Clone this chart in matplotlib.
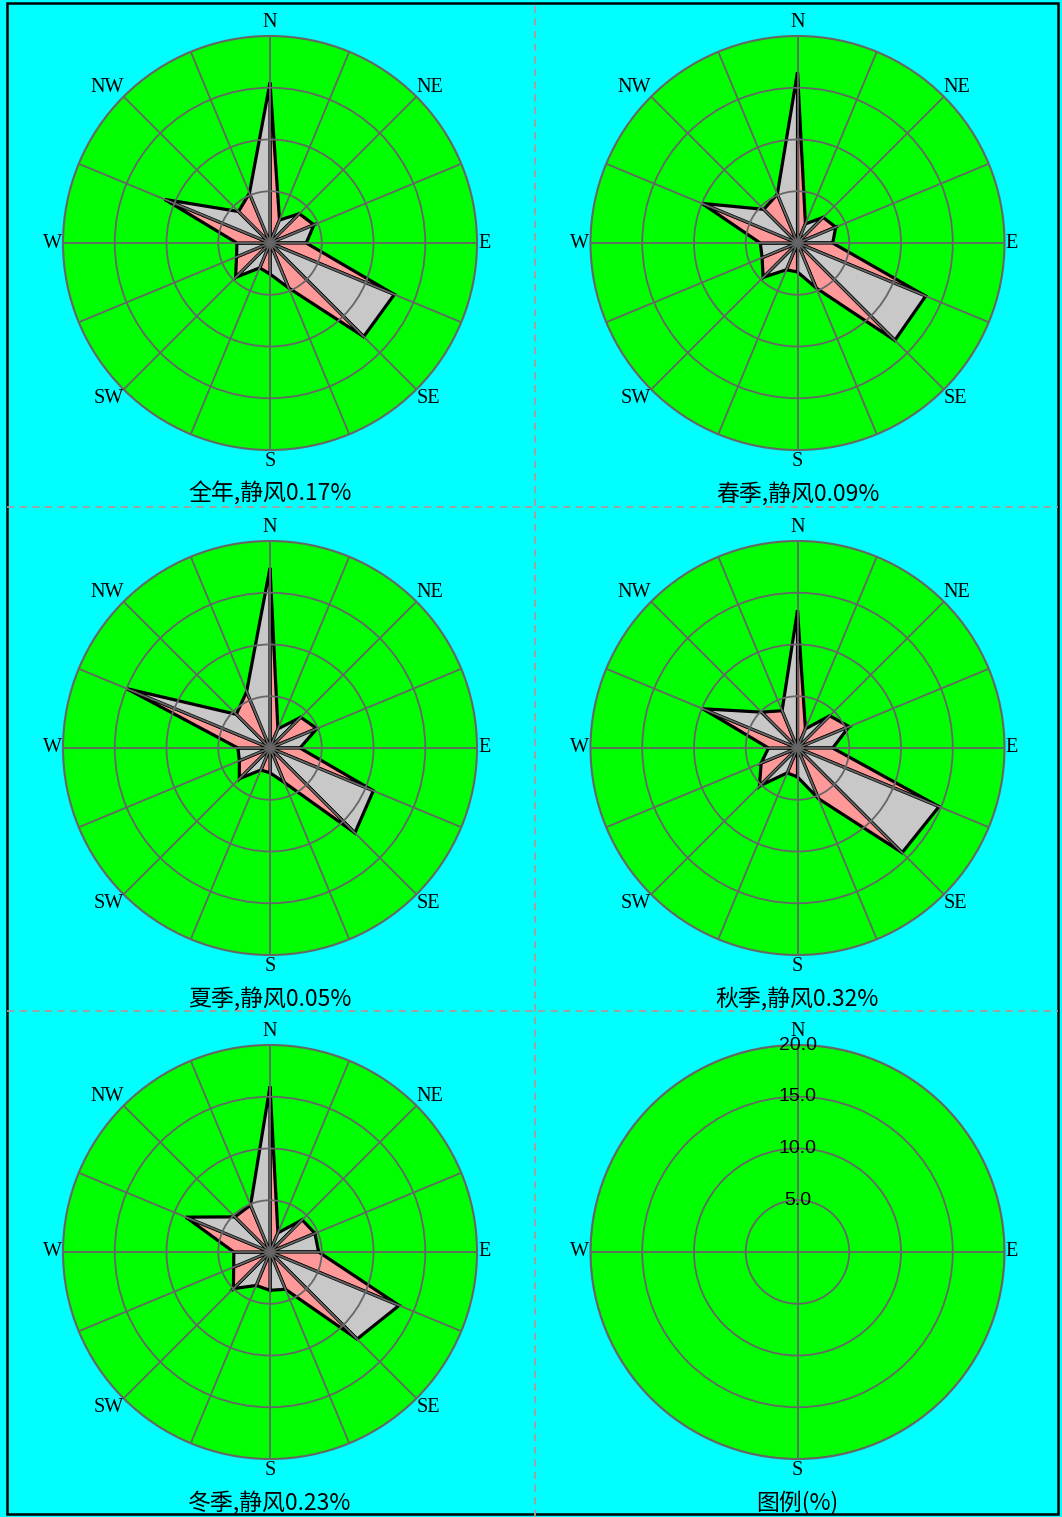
import numpy as np
import matplotlib
matplotlib.use("Agg")
import matplotlib.pyplot as plt
from matplotlib.lines import Line2D
from matplotlib.patches import Rectangle

# 16 compass sectors, clockwise from north
directions = ["N", "NNE", "NE", "ENE", "E", "ESE", "SE", "SSE",
              "S", "SSW", "SW", "WSW", "W", "WNW", "NW", "NNW"]

# wind direction frequencies (%)
annual = [15.5, 2.4, 4.0, 4.6, 3.5, 13.0, 12.8, 4.7,
          3.0, 2.6, 4.7, 3.5, 3.2, 11.0, 4.3, 5.2]
spring = [16.5, 2.0, 3.5, 4.0, 3.4, 13.4, 13.3, 4.7,
          2.8, 2.8, 4.7, 3.7, 3.6, 10.0, 4.6, 5.1]
summer = [17.4, 2.0, 4.2, 4.9, 2.9, 10.8, 11.6, 3.6,
          2.4, 2.3, 4.2, 3.2, 3.1, 15.0, 4.6, 5.9]
autumn = [13.3, 2.0, 4.4, 5.4, 3.4, 14.8, 14.3, 5.3,
          2.8, 2.6, 5.2, 3.8, 2.8, 9.9, 4.9, 3.9]
winter = [16.0, 2.0, 4.4, 4.7, 4.7, 13.5, 11.9, 3.9,
          3.7, 3.5, 5.0, 3.8, 3.5, 8.8, 4.8, 4.9]

periods = ["全年", "春季", "夏季", "秋季", "冬季"]
calm = [0.17, 0.09, 0.05, 0.32, 0.23]
series = [annual, spring, summer, autumn, winter]

compass_labels = ["N", "NE", "E", "SE", "S", "SW", "W", "NW"]
legend_ticks = [5.0, 10.0, 15.0, 20.0]
legend_title = "图例(%)"

W, H = 1062, 1517
R = 207
fig = plt.figure(figsize=(W / 100, H / 100), dpi=100, facecolor="#00FFFF")

col_x = [270, 797.5]
row_y = [243, 748, 1252]
title_y = [494, 999, 1503]
GRID = "#666666"
PINK = "#FF9999"
GREY = "#C8C8C8"


def polar_panel(cx, cy, n_spokes):
    ax = fig.add_axes([(cx - R) / W, 1 - (cy + R) / H, 2 * R / W, 2 * R / H],
                      projection="polar")
    ax.set_theta_zero_location("N")
    ax.set_theta_direction(-1)
    ax.set_facecolor("#00FF00")
    ax.set_ylim(0, 20)
    ax.set_yticks([5, 10, 15])
    ax.set_yticklabels([])
    ax.set_xticks(np.deg2rad(np.arange(n_spokes) * 360 / n_spokes))
    ax.set_xticklabels([])
    ax.tick_params(length=0)
    ax.grid(True, color=GRID, lw=1.3)
    ax.set_axisbelow(False)
    ax.spines["polar"].set_color(GRID)
    ax.spines["polar"].set_linewidth(1.5)
    return ax


def label_compass(ax, labels, angles):
    for lab, ang in zip(labels, angles):
        a = ang % 360
        if a == 0:
            ha, va, rr = "center", "bottom", 20.4
        elif a == 90:
            ha, va, rr = "left", "center", 20.1
        elif a == 180:
            ha, va, rr = "center", "top", 20.2
        elif a == 270:
            ha, va, rr = "right", "center", 20.1
        else:
            ha = "left" if a < 180 else "right"
            va = "bottom" if (a < 90 or a > 270) else "top"
            rr = 20.0
        ax.text(np.deg2rad(ang), rr, lab, ha=ha, va=va, fontsize=14.5,
                family="Liberation Serif", clip_on=False)


theta = np.deg2rad(np.arange(16) * 22.5)
for i, (vals, per, c) in enumerate(zip(series, periods, calm)):
    cx = col_x[i % 2]
    cy = row_y[i // 2]
    ax = polar_panel(cx, cy, 16)
    for k in range(16):
        k2 = (k + 1) % 16
        ax.fill([0, theta[k], theta[k2]], [0, vals[k], vals[k2]],
                facecolor=PINK if k % 2 == 0 else GREY,
                edgecolor="black", lw=2.3, zorder=1)
    label_compass(ax, compass_labels, np.arange(8) * 45)
    fig.text(cx / W, 1 - title_y[i // 2] / H, f"{per},静风{c:.2f}%",
             ha="center", va="center", fontsize=16.5,
             family=["Noto Sans CJK SC", "DejaVu Sans"])

# scale legend panel
lx, ly = col_x[1], row_y[2]
lax = polar_panel(lx, ly, 4)
lax.set_yticks(legend_ticks)
label_compass(lax, ["N", "E", "S", "W"], [0, 90, 180, 270])
for t in legend_ticks:
    lax.text(0, t, f"{t:.1f}", ha="center", va="center", fontsize=14,
             family="Liberation Sans", clip_on=False, zorder=5)
fig.text(lx / W, 1 - title_y[2] / H, legend_title, ha="center", va="center",
         fontsize=16.5, family=["Noto Sans CJK SC", "DejaVu Sans"])

# panel separators and outer frame
dash = dict(color="#A89C9C", lw=1.3, linestyle=(0, (4, 3)),
            transform=fig.transFigure)
fig.add_artist(Line2D([535 / W, 535 / W], [0, 1], **dash))
for y in (507, 1011):
    fig.add_artist(Line2D([7 / W, 1058 / W], [1 - y / H, 1 - y / H], **dash))
fig.add_artist(Rectangle((7 / W, 1 - 1514 / H), (1058 - 7) / W, (1514 - 3) / H,
                         transform=fig.transFigure, fill=False,
                         edgecolor="black", lw=1.8))

fig.savefig("out.png", dpi=100, facecolor=fig.get_facecolor())
